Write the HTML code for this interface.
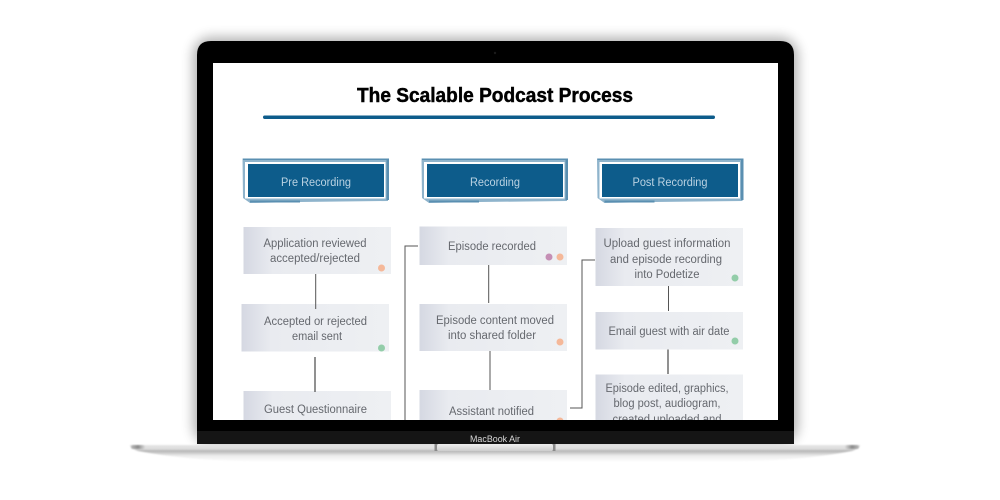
<!DOCTYPE html>
<html>
<head>
<meta charset="utf-8">
<style>
html,body{margin:0;padding:0;background:#fff;width:1000px;height:500px;overflow:hidden}
svg{display:block}
text{font-family:"Liberation Sans",sans-serif}
.t{font-size:11.5px;fill:#65686e;text-anchor:middle}
.h{font-size:11.5px;fill:#b9d2e2;text-anchor:middle}
</style>
</head>
<body>
<svg width="1000" height="500" viewBox="0 0 1000 500" xmlns="http://www.w3.org/2000/svg">
<defs>
<linearGradient id="card" x1="0" x2="1" y1="0" y2="0">
<stop offset="0" stop-color="#d5d8e2"/><stop offset=".2" stop-color="#e9ebf0"/><stop offset="1" stop-color="#eef0f3"/>
</linearGradient>
<linearGradient id="base" x1="0" x2="0" y1="0" y2="1">
<stop offset="0" stop-color="#e6e6e6"/><stop offset=".25" stop-color="#dcdcdc"/><stop offset=".36" stop-color="#b4b4b4"/><stop offset=".65" stop-color="#ececec"/><stop offset="1" stop-color="#fdfdfd"/>
</linearGradient>
<linearGradient id="notch" x1="0" x2="0" y1="0" y2="1">
<stop offset="0" stop-color="#efefef"/><stop offset="1" stop-color="#cdcdcd"/>
</linearGradient>
<linearGradient id="tipL" x1="0" x2="1" y1="0" y2="0">
<stop offset="0" stop-color="#bbb"/><stop offset=".5" stop-color="#8a8a8a"/><stop offset="1" stop-color="#dcdcdc"/>
</linearGradient>
<linearGradient id="tipR" x1="1" x2="0" y1="0" y2="0">
<stop offset="0" stop-color="#bbb"/><stop offset=".5" stop-color="#8a8a8a"/><stop offset="1" stop-color="#dcdcdc"/>
</linearGradient>
<filter id="sh" x="-10%" y="-10%" width="120%" height="120%"><feGaussianBlur stdDeviation="6"/></filter>
<filter id="soft" x="-2%" y="-2%" width="104%" height="104%"><feGaussianBlur stdDeviation="0.35"/></filter>
<filter id="soft2" x="-5%" y="-20%" width="110%" height="140%"><feGaussianBlur stdDeviation="0.7"/></filter>
</defs>

<rect x="193" y="37" width="605" height="407" rx="18" fill="#000" opacity=".3" filter="url(#sh)"/>

<path d="M197 444 V55 Q197 41 211 41 H780 Q794 41 794 55 V444Z" fill="#000"/>
<circle cx="495" cy="53" r="1.200" fill="#1a1a1a"/>
<rect x="213" y="63" width="565" height="357" fill="#fff"/>

<g filter="url(#soft2)">
<path d="M130 445 H860 Q861 448 852 451 Q805 460 740 461.500 H250 Q185 460 138 451 Q129 448 130 445Z" fill="url(#base)"/>
<rect x="131" y="445" width="14" height="4" rx="2" fill="url(#tipL)"/>
<rect x="845" y="445" width="14" height="4" rx="2" fill="url(#tipR)"/>
</g>
<rect x="197" y="431" width="597" height="13" fill="#151515"/>
<rect x="434.500" y="444" width="3" height="7" fill="#8a8a8a" filter="url(#soft)"/>
<rect x="552.500" y="444" width="3" height="7" fill="#8a8a8a" filter="url(#soft)"/>
<rect x="437" y="444" width="116" height="7" rx="2" fill="url(#notch)"/>
<text x="495" y="442" font-size="9" fill="#d8d8d8" text-anchor="middle" textLength="50" lengthAdjust="spacingAndGlyphs">MacBook Air</text>

<g filter="url(#soft)">
<text x="495" y="102" font-size="20" font-weight="bold" fill="#000" stroke="#000" stroke-width=".45" text-anchor="middle" textLength="276" lengthAdjust="spacingAndGlyphs">The Scalable Podcast Process</text>
<rect x="263" y="115.500" width="452" height="3.500" rx="1.700" fill="#0f5c8b"/>

<g>
<path d="M242.500 158.500 L389 158.500 L388 201 L300 202 L250 203 L243 198Z" fill="#8fb4cc"/>
<path d="M243 158.500 H389 V160 H243Z M386.500 160 H389 V200 H386.500Z M250 200.500 H300 V202.500 H250Z" fill="#5a8fb1"/>
<rect x="245" y="162" width="140.500" height="36.500" fill="#fff"/>
<rect x="248" y="164" width="136" height="33" fill="#0f5c8b"/>
<text class="h" x="316" y="186" textLength="70" lengthAdjust="spacingAndGlyphs">Pre Recording</text>

<path d="M421.500 158.500 L568 158.500 L567 201 L479 202 L429 203 L422 198Z" fill="#8fb4cc"/>
<path d="M422 158.500 H568 V160 H422Z M565.500 160 H568 V200 H565.500Z M429 200.500 H479 V202.500 H429Z" fill="#5a8fb1"/>
<rect x="424" y="162" width="140.500" height="36.500" fill="#fff"/>
<rect x="427" y="164" width="136" height="33" fill="#0f5c8b"/>
<text class="h" x="495" y="186" textLength="50" lengthAdjust="spacingAndGlyphs">Recording</text>

<path d="M597 158.500 L743.500 158.500 L742.500 201 L654.500 202 L604.500 203 L597.500 198Z" fill="#8fb4cc"/>
<path d="M597.500 158.500 H743.500 V160 H597.500Z M741 160 H743.500 V200 H741Z M604.500 200.500 H654.500 V202.500 H604.500Z" fill="#5a8fb1"/>
<rect x="599.500" y="162" width="140.500" height="36.500" fill="#fff"/>
<rect x="602" y="164" width="136" height="33" fill="#0f5c8b"/>
<text class="h" x="670" y="186" textLength="75" lengthAdjust="spacingAndGlyphs">Post Recording</text>
</g>

<g fill="url(#card)">
<rect x="243.500" y="227" width="147.500" height="47"/>
<rect x="241.500" y="304" width="147.500" height="47.500"/>
<rect x="243.500" y="391" width="147.500" height="29"/>
<rect x="419.500" y="226.500" width="147.500" height="38.500"/>
<rect x="419.500" y="304" width="147.500" height="47"/>
<rect x="419.500" y="390" width="147.500" height="30"/>
<rect x="595.500" y="228" width="147.500" height="58"/>
<rect x="595.500" y="312" width="147.500" height="37.500"/>
<rect x="595.500" y="374.500" width="147.500" height="45.500"/>
</g>

<g stroke="#555" fill="none">
<path d="M315.700 274 V309"/>
<path d="M315 357 V392" stroke-width="1.300"/>
<path d="M488.700 265 V303"/>
<path d="M490 351 V390"/>
<path d="M418 246 H405 V420"/>
<path d="M595 260 H582 V408 H570"/>
<path d="M668.500 286 V311"/>
<path d="M668 349.500 V374" stroke-width="1.300"/>
</g>

<g>
<text class="t" x="315" y="247" textLength="103" lengthAdjust="spacingAndGlyphs">Application reviewed</text>
<text class="t" x="315" y="262" textLength="90" lengthAdjust="spacingAndGlyphs">accepted/rejected</text>
<text class="t" x="315.500" y="325" textLength="103" lengthAdjust="spacingAndGlyphs">Accepted or rejected</text>
<text class="t" x="317" y="340" textLength="50" lengthAdjust="spacingAndGlyphs">email sent</text>
<text class="t" x="315.500" y="413" textLength="103" lengthAdjust="spacingAndGlyphs">Guest Questionnaire</text>
<text class="t" x="492" y="250" textLength="88" lengthAdjust="spacingAndGlyphs">Episode recorded</text>
<text class="t" x="495" y="324" textLength="118" lengthAdjust="spacingAndGlyphs">Episode content moved</text>
<text class="t" x="492" y="339" textLength="88" lengthAdjust="spacingAndGlyphs">into shared folder</text>
<text class="t" x="491.500" y="415" textLength="85" lengthAdjust="spacingAndGlyphs">Assistant notified</text>
<text class="t" x="667" y="247" textLength="127" lengthAdjust="spacingAndGlyphs">Upload guest information</text>
<text class="t" x="666" y="263" textLength="112" lengthAdjust="spacingAndGlyphs">and episode recording</text>
<text class="t" x="667" y="278" textLength="65" lengthAdjust="spacingAndGlyphs">into Podetize</text>
<text class="t" x="669" y="335" textLength="121" lengthAdjust="spacingAndGlyphs">Email guest with air date</text>
<text class="t" x="667" y="392" textLength="123" lengthAdjust="spacingAndGlyphs">Episode edited, graphics,</text>
<text class="t" x="667" y="407" textLength="107" lengthAdjust="spacingAndGlyphs">blog post, audiogram,</text>
</g>

<circle cx="381.500" cy="268" r="3.500" fill="#f5b899"/>
<circle cx="381.500" cy="348" r="3.500" fill="#93cda9"/>
<circle cx="549" cy="257" r="3.500" fill="#c58fb5"/>
<circle cx="560" cy="257" r="3.500" fill="#f5b899"/>
<circle cx="560" cy="342" r="3.500" fill="#f5b899"/>
<circle cx="735" cy="278" r="3.500" fill="#93cda9"/>
<circle cx="735" cy="341" r="3.500" fill="#93cda9"/>
</g>

<clipPath id="clip"><rect x="213" y="63" width="565" height="357"/></clipPath>
<g clip-path="url(#clip)">
<text class="t" x="667" y="423" textLength="109" lengthAdjust="spacingAndGlyphs">created uploaded and</text>
<circle cx="560" cy="421" r="3.500" fill="#f5b899"/>
</g>
</svg>
</body>
</html>
